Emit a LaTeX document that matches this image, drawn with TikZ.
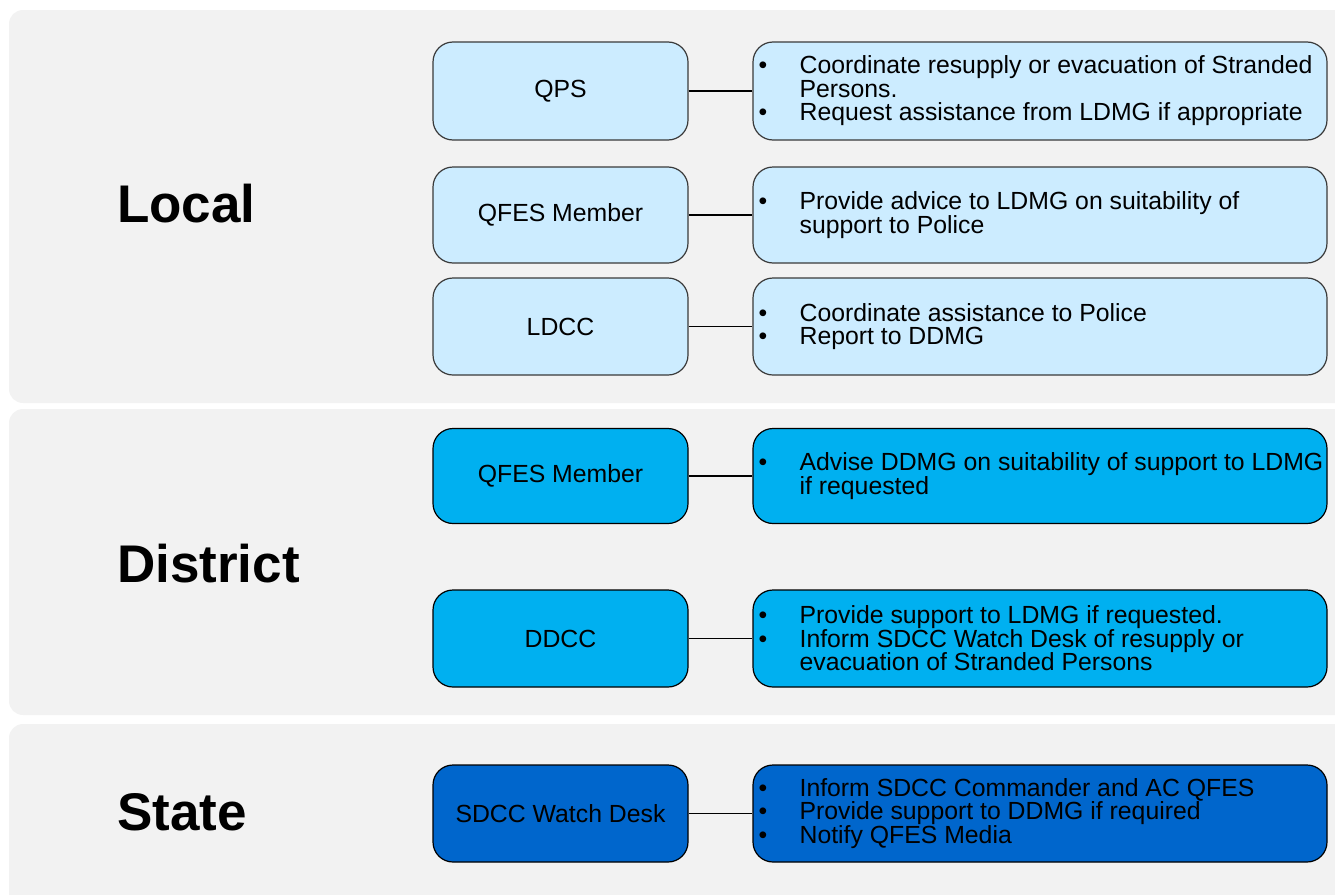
\documentclass[tikz,border=0pt]{standalone}
\usepackage{fontspec}
\setmainfont{Liberation Sans}
\definecolor{bandgray}{HTML}{F2F2F2}
\definecolor{lightblue}{HTML}{CCECFF}
\definecolor{midblue}{HTML}{00B0F0}
\definecolor{darkblue}{HTML}{0066CC}
\definecolor{edgegray}{HTML}{3A3A3A}
\newcommand{\bul}{\makebox[41pt][l]{\textbullet}}
\newcommand{\ind}{\hspace*{41pt}}
\begin{document}
\begin{tikzpicture}[x=1pt,y=-1pt,
  band/.style={fill=bandgray, draw=none, rounded corners=14pt},
  levellabel/.style={anchor=base west, font=\bfseries\fontsize{53}{53}\selectfont, text=black, inner sep=0pt},
  unitbox/.style={draw=edgegray, line width=1.2pt, rounded corners=20pt, minimum width=255pt, inner sep=0pt, font=\fontsize{24.8}{24}\selectfont},
  taskbox/.style={draw=edgegray, line width=1.2pt, rounded corners=20pt, minimum width=574pt, inner sep=0pt},
  tasktext/.style={anchor=west, align=left, inner sep=0pt, font=\fontsize{24.8}{23.5}\selectfont},
  link/.style={draw=black, line width=1.3pt}
]
\useasboundingbox (0,0) rectangle (1335,894);
% bands
\path[band] (9,10) rectangle (1360,403);
\path[band] (9,409) rectangle (1360,715);
\path[band] (9,724) rectangle (1360,920);
% level labels
\node[levellabel] (lLocal) at (117,222) {Local};
\node[levellabel] (lDistrict) at (117,582) {District};
\node[levellabel] (lState) at (117,830) {State};
% Local
\node[unitbox, fill=lightblue, minimum height=98pt] (u1) at (560.5,91) {QPS};
\node[taskbox, fill=lightblue, minimum height=98pt] (t1) at (1040,91) {};
\node[tasktext] (x1) at ([xshift=6pt]t1.west) {\bul Coordinate resupply or evacuation of Stranded\\\ind Persons.\\\bul Request assistance from LDMG if appropriate};
\node[unitbox, fill=lightblue, minimum height=96pt] (u2) at (560.5,215) {QFES Member};
\node[taskbox, fill=lightblue, minimum height=96pt] (t2) at (1040,215) {};
\node[tasktext] (x2) at ([xshift=6pt]t2.west) {\bul Provide advice to LDMG on suitability of\\\ind support to Police};
\node[unitbox, fill=lightblue, minimum height=97pt] (u3) at (560.5,326.5) {LDCC};
\node[taskbox, fill=lightblue, minimum height=97pt] (t3) at (1040,326.5) {};
\node[tasktext] (x3) at ([xshift=6pt]t3.west) {\bul Coordinate assistance to Police\\\bul Report to DDMG};
% District
\node[unitbox, fill=midblue, draw=black, minimum height=95pt] (u4) at (560.5,476) {QFES Member};
\node[taskbox, fill=midblue, draw=black, minimum height=95pt] (t4) at (1040,476) {};
\node[tasktext] (x4) at ([xshift=6pt]t4.west) {\bul Advise DDMG on suitability of support to LDMG\\\ind if requested};
\node[unitbox, fill=midblue, draw=black, minimum height=97pt] (u5) at (560.5,638.5) {DDCC};
\node[taskbox, fill=midblue, draw=black, minimum height=97pt] (t5) at (1040,638.5) {};
\node[tasktext] (x5) at ([xshift=6pt]t5.west) {\bul Provide support to LDMG if requested.\\\bul Inform SDCC Watch Desk of resupply or\\\ind evacuation of Stranded Persons};
% State
\node[unitbox, fill=darkblue, draw=black, minimum height=97pt] (u6) at (560.5,813.5) {SDCC Watch Desk};
\node[taskbox, fill=darkblue, draw=black, minimum height=97pt] (t6) at (1040,813.5) {};
\node[tasktext] (x6) at ([xshift=6pt]t6.west) {\bul Inform SDCC Commander and AC QFES\\\bul Provide support to DDMG if required\\\bul Notify QFES Media};
% connectors
\draw[link] (u1) -- (t1);
\draw[link] (u2) -- (t2);
\draw[link] (u3) -- (t3);
\draw[link] (u4) -- (t4);
\draw[link] (u5) -- (t5);
\draw[link] (u6) -- (t6);
\end{tikzpicture}
\end{document}
